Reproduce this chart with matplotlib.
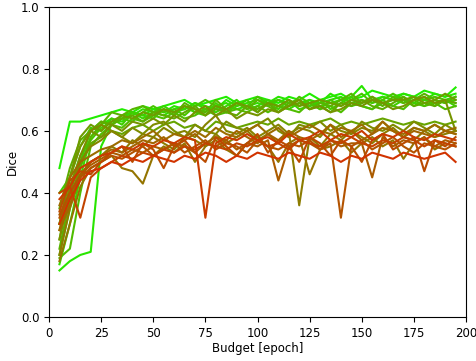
import matplotlib
matplotlib.use("Agg")
import matplotlib.pyplot as plt

budget = list(range(5, 200, 5))  # 39 points

g1 = [0.48,0.63,0.63,0.64,0.65,0.66,0.67,0.66,0.68,0.67,0.68,0.69,0.70,0.68,0.69,0.70,0.71,0.69,0.70,0.71,0.70,0.69,0.71,0.70,0.72,0.70,0.71,0.72,0.70,0.71,0.73,0.72,0.71,0.72,0.71,0.73,0.72,0.71,0.74]
g2 = [0.15,0.18,0.20,0.21,0.55,0.62,0.64,0.66,0.65,0.67,0.66,0.68,0.67,0.69,0.68,0.67,0.70,0.68,0.69,0.70,0.69,0.71,0.70,0.68,0.70,0.69,0.72,0.70,0.71,0.745,0.70,0.71,0.70,0.72,0.71,0.70,0.72,0.71,0.72]
g3 = [0.17,0.30,0.45,0.58,0.62,0.64,0.63,0.65,0.67,0.66,0.65,0.67,0.68,0.66,0.67,0.68,0.69,0.67,0.68,0.69,0.68,0.70,0.69,0.70,0.68,0.69,0.70,0.71,0.69,0.70,0.69,0.71,0.70,0.69,0.71,0.70,0.69,0.70,0.71]
g4 = [0.20,0.35,0.50,0.60,0.63,0.62,0.65,0.66,0.64,0.66,0.68,0.66,0.67,0.69,0.67,0.66,0.68,0.70,0.67,0.68,0.70,0.68,0.67,0.69,0.70,0.68,0.69,0.70,0.68,0.69,0.71,0.69,0.70,0.71,0.69,0.68,0.70,0.69,0.70]
g5 = [0.40,0.45,0.55,0.61,0.60,0.64,0.62,0.66,0.65,0.64,0.67,0.65,0.68,0.66,0.65,0.69,0.66,0.68,0.70,0.66,0.69,0.67,0.70,0.67,0.68,0.70,0.67,0.69,0.71,0.68,0.67,0.70,0.68,0.70,0.69,0.71,0.68,0.70,0.68]
g6 = [0.25,0.42,0.52,0.57,0.61,0.63,0.64,0.63,0.66,0.68,0.66,0.67,0.65,0.68,0.70,0.68,0.66,0.69,0.68,0.71,0.69,0.70,0.68,0.71,0.69,0.67,0.70,0.68,0.70,0.72,0.69,0.70,0.72,0.70,0.68,0.70,0.71,0.70,0.69]
g7 = [0.19,0.22,0.40,0.55,0.59,0.62,0.61,0.64,0.63,0.65,0.64,0.66,0.64,0.65,0.67,0.65,0.66,0.67,0.66,0.68,0.66,0.68,0.67,0.66,0.69,0.67,0.68,0.66,0.69,0.68,0.67,0.69,0.68,0.67,0.70,0.68,0.69,0.67,0.68]
g8 = [0.22,0.38,0.48,0.58,0.62,0.66,0.65,0.67,0.68,0.66,0.67,0.65,0.69,0.67,0.66,0.70,0.67,0.69,0.67,0.70,0.68,0.66,0.69,0.70,0.67,0.69,0.68,0.70,0.72,0.69,0.70,0.68,0.71,0.69,0.70,0.72,0.70,0.69,0.71]
g9 = [0.35,0.48,0.57,0.60,0.63,0.62,0.64,0.65,0.63,0.66,0.65,0.64,0.66,0.68,0.65,0.67,0.66,0.65,0.68,0.67,0.69,0.66,0.68,0.69,0.67,0.68,0.66,0.69,0.68,0.70,0.68,0.67,0.69,0.71,0.68,0.69,0.68,0.70,0.69]
g10 = [0.30,0.40,0.50,0.56,0.58,0.60,0.59,0.61,0.62,0.60,0.62,0.63,0.61,0.62,0.60,0.63,0.62,0.61,0.62,0.63,0.62,0.64,0.62,0.63,0.62,0.63,0.64,0.62,0.63,0.62,0.63,0.64,0.63,0.62,0.63,0.62,0.63,0.62,0.63]
o1 = [0.30,0.45,0.58,0.62,0.60,0.63,0.65,0.64,0.66,0.65,0.67,0.66,0.68,0.67,0.65,0.68,0.67,0.69,0.68,0.66,0.69,0.68,0.70,0.68,0.69,0.70,0.69,0.68,0.70,0.69,0.71,0.69,0.70,0.70,0.71,0.69,0.70,0.72,0.70]
o2 = [0.25,0.40,0.52,0.60,0.62,0.60,0.58,0.61,0.59,0.62,0.63,0.60,0.58,0.62,0.60,0.59,0.63,0.61,0.60,0.62,0.64,0.60,0.58,0.62,0.61,0.63,0.60,0.62,0.59,0.63,0.61,0.60,0.62,0.60,0.63,0.61,0.59,0.62,0.60]
o3 = [0.20,0.35,0.45,0.50,0.52,0.55,0.53,0.57,0.55,0.58,0.56,0.54,0.58,0.57,0.55,0.59,0.56,0.58,0.60,0.57,0.59,0.56,0.60,0.36,0.58,0.55,0.59,0.57,0.60,0.58,0.56,0.59,0.61,0.58,0.57,0.60,0.58,0.59,0.60]
o4 = [0.18,0.30,0.42,0.48,0.50,0.52,0.48,0.47,0.43,0.52,0.55,0.53,0.56,0.50,0.55,0.57,0.54,0.52,0.56,0.58,0.55,0.50,0.56,0.58,0.46,0.54,0.55,0.57,0.53,0.56,0.58,0.55,0.57,0.51,0.56,0.58,0.54,0.56,0.55]
o5 = [0.28,0.42,0.50,0.55,0.57,0.60,0.58,0.56,0.59,0.58,0.61,0.59,0.60,0.58,0.62,0.65,0.60,0.59,0.61,0.58,0.60,0.62,0.59,0.61,0.60,0.58,0.62,0.60,0.59,0.61,0.60,0.63,0.60,0.58,0.61,0.60,0.62,0.60,0.59]
o6 = [0.30,0.45,0.55,0.60,0.58,0.62,0.60,0.63,0.62,0.64,0.62,0.65,0.63,0.66,0.68,0.65,0.67,0.64,0.66,0.65,0.67,0.66,0.68,0.70,0.67,0.68,0.66,0.67,0.69,0.68,0.70,0.69,0.67,0.68,0.70,0.71,0.69,0.70,0.60]
r1 = [0.38,0.42,0.48,0.50,0.52,0.53,0.55,0.54,0.56,0.55,0.57,0.56,0.58,0.57,0.32,0.56,0.58,0.57,0.59,0.57,0.58,0.56,0.59,0.57,0.58,0.60,0.57,0.59,0.58,0.60,0.57,0.59,0.58,0.60,0.58,0.57,0.59,0.58,0.57]
r2 = [0.32,0.40,0.45,0.48,0.50,0.52,0.51,0.53,0.55,0.52,0.54,0.56,0.53,0.55,0.57,0.54,0.56,0.55,0.53,0.57,0.55,0.54,0.56,0.55,0.57,0.54,0.56,0.32,0.55,0.57,0.54,0.56,0.58,0.55,0.53,0.56,0.55,0.54,0.56]
r3 = [0.40,0.42,0.32,0.45,0.48,0.50,0.52,0.51,0.53,0.52,0.54,0.53,0.55,0.54,0.56,0.55,0.54,0.56,0.55,0.57,0.55,0.56,0.54,0.57,0.56,0.55,0.57,0.56,0.58,0.56,0.55,0.57,0.56,0.58,0.57,0.55,0.57,0.56,0.55]
r4 = [0.36,0.45,0.50,0.52,0.54,0.55,0.57,0.56,0.58,0.60,0.57,0.59,0.58,0.60,0.58,0.61,0.59,0.58,0.60,0.62,0.59,0.61,0.58,0.60,0.62,0.60,0.59,0.61,0.60,0.62,0.59,0.61,0.60,0.59,0.61,0.60,0.62,0.60,0.61]
r5 = [0.30,0.38,0.44,0.47,0.48,0.50,0.49,0.51,0.50,0.52,0.51,0.50,0.52,0.51,0.53,0.52,0.50,0.52,0.51,0.53,0.52,0.51,0.53,0.52,0.51,0.53,0.52,0.50,0.52,0.51,0.53,0.52,0.51,0.53,0.52,0.51,0.52,0.53,0.50]
r6 = [0.34,0.44,0.47,0.46,0.50,0.53,0.55,0.50,0.56,0.54,0.48,0.55,0.57,0.53,0.50,0.58,0.55,0.52,0.56,0.59,0.53,0.57,0.55,0.50,0.58,0.56,0.52,0.57,0.55,0.50,0.57,0.59,0.54,0.56,0.58,0.47,0.57,0.55,0.58]
r7 = [0.28,0.36,0.46,0.50,0.52,0.54,0.53,0.55,0.57,0.56,0.58,0.55,0.57,0.59,0.56,0.58,0.57,0.60,0.58,0.56,0.59,0.57,0.60,0.58,0.57,0.59,0.62,0.58,0.60,0.57,0.59,0.63,0.60,0.58,0.60,0.59,0.58,0.60,0.59]
r8 = [0.33,0.40,0.46,0.49,0.51,0.53,0.52,0.54,0.53,0.55,0.54,0.56,0.55,0.53,0.56,0.55,0.57,0.54,0.56,0.55,0.57,0.44,0.55,0.57,0.56,0.54,0.57,0.55,0.56,0.56,0.45,0.58,0.55,0.57,0.56,0.58,0.55,0.57,0.56]

series = [g1, g2, g3, g4, g5, g6, g7, g8, g9, g10, o1, o6, o2, o5, o3, o4,
          r4, r7, r8, r2, r6, r3, r1, r5]

plt.rcParams['font.size'] = 8.5

fig = plt.figure(figsize=(4.76, 3.61), dpi=100)
ax = fig.add_axes([0.103, 0.122, 0.876, 0.859])

n = len(series)
c0 = (0.13, 0.93, 0.0)
c1 = (0.82, 0.2, 0.0)
for i, v in enumerate(series):
    t = i / (n - 1)
    col = tuple(c0[k] + (c1[k] - c0[k]) * t for k in range(3))
    ax.plot(budget[:len(v)], v, color=col, linewidth=1.5)

ax.set_xlim(0, 200)
ax.set_ylim(0, 1.0)
ax.set_xticks([0, 25, 50, 75, 100, 125, 150, 175, 200])
ax.set_yticks([0.0, 0.2, 0.4, 0.6, 0.8, 1.0])
ax.set_xlabel("Budget [epoch]", labelpad=1.5)
ax.set_ylabel("Dice", labelpad=1.5)

fig.savefig("out.png", dpi=100)
